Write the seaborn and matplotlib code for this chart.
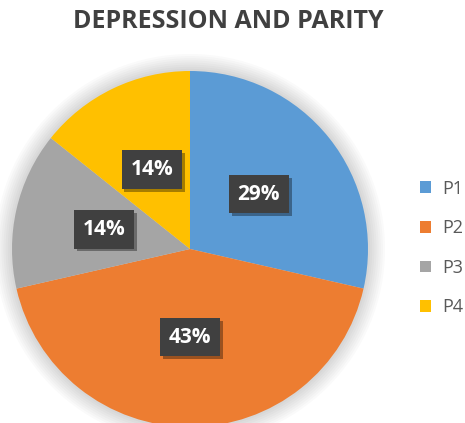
import matplotlib
matplotlib.use("Agg")
import matplotlib.pyplot as plt
import matplotlib.patheffects as pe
from matplotlib.patches import Circle
import seaborn as sns

sns.set_theme(style="white")
plt.rcParams["font.family"] = ["Open Sans", "DejaVu Sans"]

# Parity groups and respondent counts
categories = ["P1", "P2", "P3", "P4"]
counts = [2, 3, 1, 1]
colors = ["#5B9BD5", "#ED7D31", "#A5A5A5", "#FFC000"]

W, H = 465, 423
fig = plt.figure(figsize=(W / 100, H / 100), dpi=100)
fig.patch.set_facecolor("white")

cx, cy, r = 190, 249, 178
ax = fig.add_axes([(cx - r) / W, (H - cy - r) / H, 2 * r / W, 2 * r / H])

# soft glow behind the pie
for k in range(8):
    ax.add_patch(Circle((0, 0), 1.0 + 0.012 * (k + 1), facecolor="black",
                        edgecolor="none", alpha=0.018, zorder=0, clip_on=False))

wedges, _, autotexts = ax.pie(
    counts,
    colors=colors,
    startangle=90,
    counterclock=False,
    autopct=lambda p: f"{p:.0f}%",
    pctdistance=0.495,
    wedgeprops=dict(linewidth=0, zorder=2),
    textprops=dict(color="white", fontsize=15, fontweight="bold"),
)
ax.set_xlim(-1, 1)
ax.set_ylim(-1, 1)
ax.set_aspect("equal")
ax.axis("off")

for t in autotexts:
    t.set_zorder(5)
    t.set_bbox(dict(boxstyle="square,pad=0.42", facecolor="#404040", edgecolor="none"))
    t.get_bbox_patch().set_path_effects(
        [pe.SimplePatchShadow(offset=(2, -2), shadow_rgbFace="black", alpha=0.35), pe.Normal()]
    )

fig.text(228 / W, 1 - 22 / H, "DEPRESSION AND PARITY", ha="center", va="center",
         fontsize=18, fontweight="bold", color="#404040")

leg = fig.legend(
    wedges, categories,
    loc="center left", bbox_to_anchor=(404 / W, 1 - 248 / H),
    frameon=False, fontsize=13, labelcolor="#595959",
    handlelength=0.6, handleheight=0.6, handletextpad=0.6,
    labelspacing=1.2,
)

fig.savefig("out.png", dpi=100, facecolor="white")
